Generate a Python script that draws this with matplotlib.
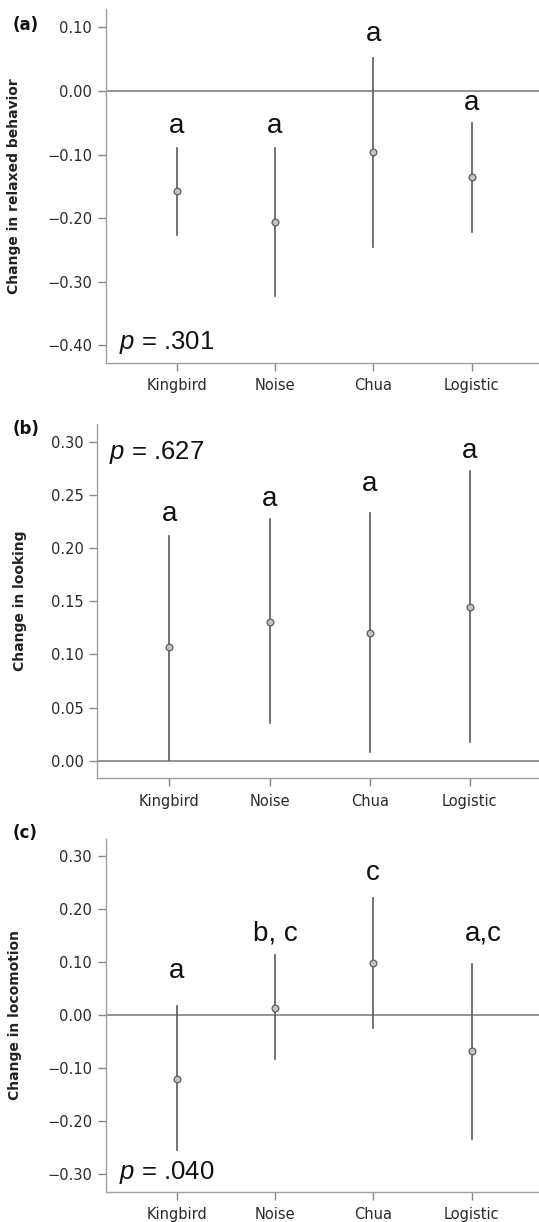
import matplotlib
matplotlib.use("Agg")
import matplotlib.pyplot as plt

plt.rcParams['mathtext.fontset'] = 'custom'
plt.rcParams['mathtext.it'] = 'Liberation Sans:italic'
plt.rcParams['mathtext.rm'] = 'Liberation Sans'

# categories
groups = ["Kingbird", "Noise", "Chua", "Logistic"]

# (a) relaxed behavior: mean, lower and upper CI
relax_mean = [-0.157, -0.206, -0.096, -0.136]
relax_low = [-0.226, -0.323, -0.245, -0.222]
relax_high = [-0.090, -0.090, 0.052, -0.050]
relax_letters = ["a", "a", "a", "a"]
relax_letter_y = [-0.066, -0.066, 0.078, -0.030]
relax_p = ".301"

# (b) looking
look_mean = [0.107, 0.131, 0.120, 0.145]
look_low = [0.001, 0.035, 0.008, 0.018]
look_high = [0.212, 0.228, 0.233, 0.273]
look_letters = ["a", "a", "a", "a"]
look_letter_y = [0.226, 0.240, 0.254, 0.285]
look_p = ".627"

# (c) locomotion
loco_mean = [-0.120, 0.014, 0.099, -0.068]
loco_low = [-0.254, -0.083, -0.024, -0.234]
loco_high = [0.016, 0.113, 0.221, 0.097]
loco_letters = ["a", "b, c", "c", "a,c"]
loco_letter_y = [0.070, 0.141, 0.254, 0.141]
loco_p = ".040"

W, H = 539, 1222
fig = plt.figure(figsize=(W / 100, H / 100), dpi=100)


def add_axes_px(left, right, top, bottom):
    return fig.add_axes([left / W, 1 - bottom / H, (right - left) / W, (bottom - top) / H])


def draw_panel(ax, mean, low, high, letters, letter_y, letter_dx, ylim, yticks,
               ylabel, ptext, py, px, label_x_px, left_px, right_px):
    xs = list(range(len(groups)))
    ax.axhline(0, color='#777777', lw=1.1, zorder=1)
    for x, m, lo, hi in zip(xs, mean, low, high):
        ax.plot([x, x], [lo, hi], color='#5a5a5a', lw=1.2, zorder=2)
    ax.plot(xs, mean, 'o', ms=4.8, mfc='#c4c4c4', mec='#666666', mew=1.0, zorder=3)
    for x, t, y, dx in zip(xs, letters, letter_y, letter_dx):
        ax.text(x + dx, y, t, ha='center', va='baseline', fontsize=20,
                family='Liberation Sans', color='#111111')
    ax.text(px, py, r'$p$ = ' + ptext, ha='left', va='baseline', fontsize=18.5,
            family='Liberation Sans', color='#111111')
    ax.set_xlim(-0.72, 3.72)
    ax.set_ylim(*ylim)
    ax.set_yticks(yticks)
    ax.set_yticklabels(['{:.2f}'.format(v).replace('-', '\u2212') for v in yticks])
    ax.set_xticks(xs)
    ax.set_xticklabels(groups)
    for s in ['top', 'right']:
        ax.spines[s].set_visible(False)
    for s in ['left', 'bottom']:
        ax.spines[s].set_color('#a0a0a0')
        ax.spines[s].set_linewidth(1.0)
    ax.tick_params(axis='both', direction='out', length=6, width=1.0, color='#888888',
                   labelsize=10.5, labelcolor='#2a2a2a')
    ax.tick_params(axis='y', pad=4)
    ax.tick_params(axis='x', pad=5)
    ax.set_ylabel(ylabel, fontsize=10, fontweight='bold', color='#222222')
    ax.yaxis.set_label_coords((label_x_px - left_px) / (right_px - left_px), 0.5)


ax_a = add_axes_px(106, 542.3, 9.3, 362.7)
draw_panel(ax_a, relax_mean, relax_low, relax_high, relax_letters, relax_letter_y,
           [0, 0, 0, 0], (-0.4273, 0.1283), [0.10, 0.00, -0.10, -0.20, -0.30, -0.40],
           "Change in relaxed behavior", relax_p, -0.405, -0.587, 21, 106, 542.3)

ax_b = add_axes_px(97.3, 542, 424, 778.3)
draw_panel(ax_b, look_mean, look_low, look_high, look_letters, look_letter_y,
           [0, 0, 0, 0], (-0.0166, 0.317), [0.00, 0.05, 0.10, 0.15, 0.20, 0.25, 0.30],
           "Change in looking", look_p, 0.284, -0.599, 27.5, 97.3, 542)

ax_c = add_axes_px(106, 542.3, 838.7, 1192)
draw_panel(ax_c, loco_mean, loco_low, loco_high, loco_letters, loco_letter_y,
           [0, 0, 0, 0.12], (-0.334, 0.3326), [0.30, 0.20, 0.10, 0.00, -0.10, -0.20, -0.30],
           "Change in locomotion", loco_p, -0.309, -0.587, 22.3, 106, 542.3)

# panel tags
for tag, ypx in [("(a)", 25), ("(b)", 429.3), ("(c)", 833.3)]:
    fig.text(12.5 / W, 1 - ypx / H, tag, fontsize=12, fontweight='bold',
             ha='left', va='center', color='#111111')

fig.savefig("out.png", dpi=100)
